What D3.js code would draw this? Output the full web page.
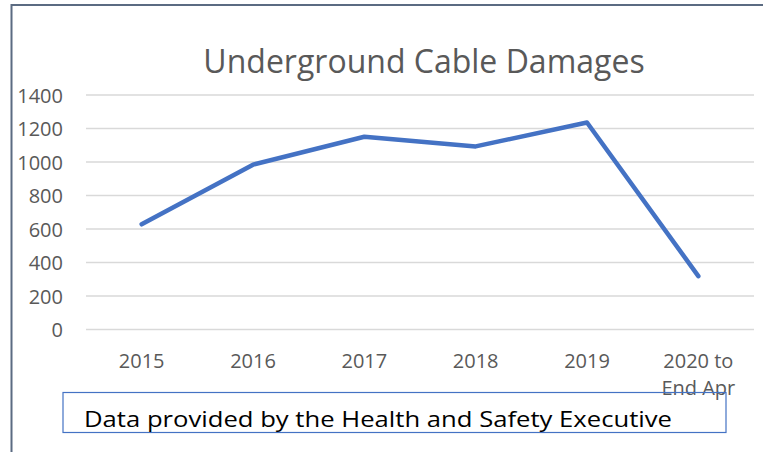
<!DOCTYPE html>
<html>
<head>
<meta charset="utf-8">
<script src="https://cdn.jsdelivr.net/npm/d3@7"></script>
<style>
  html, body { margin: 0; padding: 0; background: #fff; }
  svg { display: block; }
</style>
</head>
<body>
<svg id="chart" width="763" height="452"></svg>
<script>
// Underground cable damages per year
const categories = ["2015", "2016", "2017", "2018", "2019", "2020 to End Apr"];
const damages = [628, 984, 1151, 1093, 1236, 319];
const yTicks = [0, 200, 400, 600, 800, 1000, 1200, 1400];
const titleText = "Underground Cable Damages";
const sourceText = "Data provided by the Health and Safety Executive";

const svg = d3.select("#chart");
const W = 763, H = 452;
const plot = { left: 86, right: 754, top: 95, bottom: 329.5 };
const font = "'Open Sans', 'Liberation Sans', sans-serif";

svg.append("rect").attr("width", W).attr("height", H).attr("fill", "#fff");

// Frame
svg.append("path")
  .attr("d", `M11.5,${H} L11.5,5 L${W},5`)
  .attr("fill", "none")
  .attr("stroke", "#5b6b82")
  .attr("stroke-width", 2);

const x = d3.scaleBand().domain(categories).range([plot.left, plot.right]);
const y = d3.scaleLinear().domain([0, 1400]).range([plot.bottom, plot.top]);

// Horizontal gridlines
svg.append("g")
  .selectAll("line")
  .data(yTicks)
  .join("line")
  .attr("x1", plot.left).attr("x2", plot.right)
  .attr("y1", d => y(d)).attr("y2", d => y(d))
  .attr("stroke", "#d9d9d9")
  .attr("stroke-width", 1.5);

// Y axis labels
const yAxis = d3.axisLeft(y).tickValues(yTicks).tickSize(0).tickPadding(0).tickFormat(d3.format("d"));
const gy = svg.append("g").attr("transform", "translate(63,0)").call(yAxis);
gy.select(".domain").remove();
gy.selectAll("text")
  .attr("font-family", font)
  .attr("font-size", 20)
  .attr("fill", "#595959")
  .attr("dy", "0.36em");

// X axis labels (wrapped)
const xLabels = svg.append("g")
  .selectAll("text")
  .data(categories)
  .join("text")
  .attr("x", d => x(d) + x.bandwidth() / 2)
  .attr("y", 368)
  .attr("text-anchor", "middle")
  .attr("font-family", font)
  .attr("font-size", 20)
  .attr("fill", "#595959");
xLabels.each(function(d) {
  const parts = d === "2020 to End Apr" ? ["2020 to", "End Apr"] : [d];
  const t = d3.select(this);
  parts.forEach((p, i) => {
    t.append("tspan")
      .attr("x", x(d) + x.bandwidth() / 2)
      .attr("dy", i === 0 ? 0 : 27)
      .text(p);
  });
});

// Data line
const line = d3.line()
  .x((d, i) => x(categories[i]) + x.bandwidth() / 2)
  .y(d => y(d));
svg.append("path")
  .datum(damages)
  .attr("d", line)
  .attr("fill", "none")
  .attr("stroke", "#4472c4")
  .attr("stroke-width", 4.5)
  .attr("stroke-linecap", "round")
  .attr("stroke-linejoin", "round");

// Title
svg.append("text")
  .attr("x", 424)
  .attr("y", 73)
  .attr("text-anchor", "middle")
  .attr("font-family", font)
  .attr("font-size", 32)
  .attr("fill", "#595959")
  .text(titleText);

// Source note box
svg.append("rect")
  .attr("x", 63).attr("y", 392.5)
  .attr("width", 663).attr("height", 40)
  .attr("fill", "none")
  .attr("stroke", "#4472c4")
  .attr("stroke-width", 1.2);
svg.append("text")
  .attr("x", 84)
  .attr("y", 427)
  .attr("font-family", font)
  .attr("font-size", 21)
  .attr("fill", "#000")
  .attr("textLength", 588)
  .attr("lengthAdjust", "spacingAndGlyphs")
  .text(sourceText);
</script>
</body>
</html>
